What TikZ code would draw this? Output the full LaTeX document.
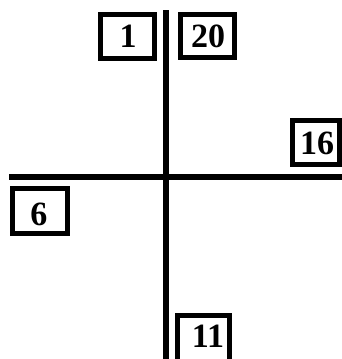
\documentclass[tikz,border=0pt]{standalone}
\usepackage{fontspec}
\setmainfont{Liberation Serif}
\begin{document}
\begin{tikzpicture}[x=1pt,y=-1pt,
  numbox/.style={draw=black,line width=5pt,inner sep=0pt,fill=white},
  numtext/.style={font=\fontsize{34}{34}\selectfont\bfseries,inner sep=0pt},
  axis/.style={line width=5.5pt,black}]
\useasboundingbox[fill=white] (0,0) rectangle (341,359);
% axes
\coordinate (vtop) at (166,10);
\coordinate (vbot) at (166,365);
\coordinate (hleft) at (9,177);
\coordinate (hright) at (345,177);
\draw[axis] (vtop) -- (vbot);
\draw[axis] (hleft) -- (hright);
% boxes (outer extents measured in px)
\node[numbox,minimum width=54pt,minimum height=44pt] (b1) at (127.5,36.5) {};
\node[numbox,minimum width=54pt,minimum height=43pt] (b20) at (207.5,36) {};
\node[numbox,minimum width=47pt,minimum height=44pt] (b16) at (316,142.5) {};
\node[numbox,minimum width=55pt,minimum height=45pt] (b6) at (40,211) {};
\node[numbox,minimum width=52pt,minimum height=47pt] (b11) at (203.5,339) {};
% labels
\node[numtext] (t1) at (128,36) {1};
\node[numtext] (t20) at (208,36) {20};
\node[numtext] (t16) at (317,143) {16};
\node[numtext] (t6) at (39,214) {6};
\node[numtext] (t11) at (208,336) {11};
\end{tikzpicture}
\end{document}
